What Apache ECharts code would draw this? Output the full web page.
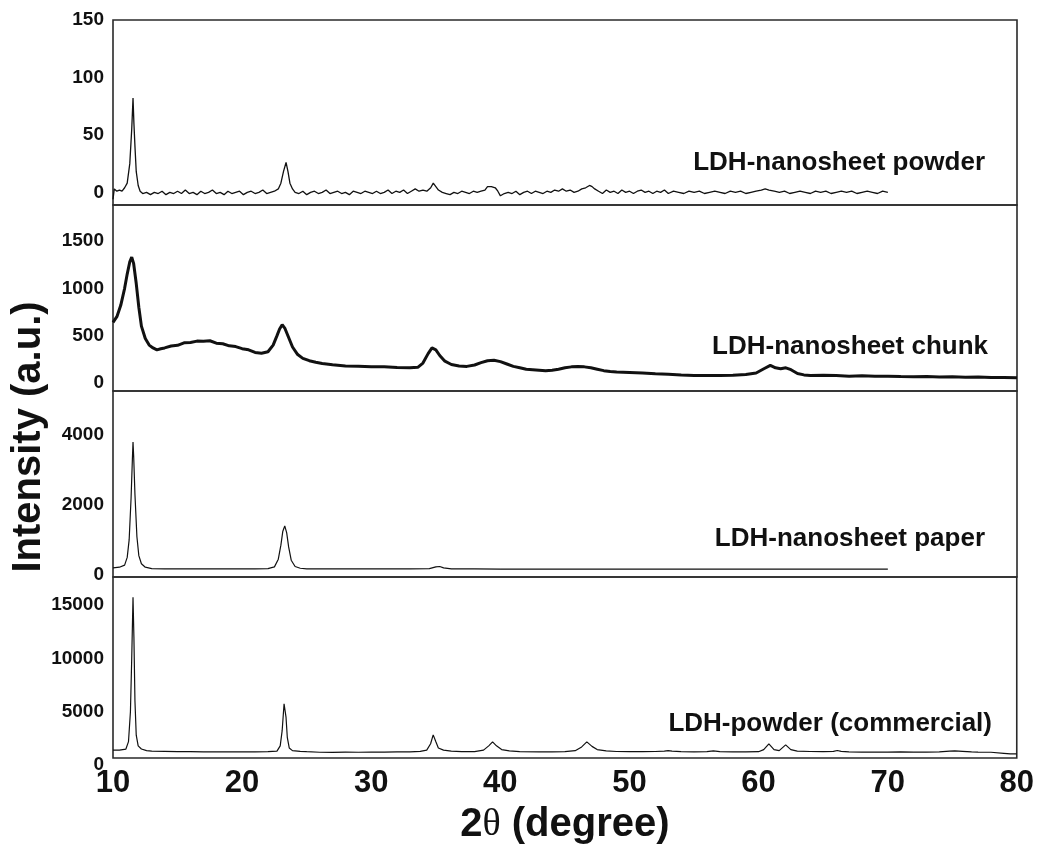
<!DOCTYPE html>
<html>
<head>
<meta charset="utf-8">
<script src="https://cdn.jsdelivr.net/npm/echarts@6/dist/echarts.min.js"></script>
<style>html,body{margin:0;padding:0;background:#fff;}#c{width:1037px;height:850px;}</style>
</head>
<body>
<div id="c"></div>
<script>
// ---- Data (2θ in degrees, intensity in a.u.) ----
const xTicks = [10, 20, 30, 40, 50, 60, 70, 80];
const panelNames = ['LDH-nanosheet powder', 'LDH-nanosheet chunk', 'LDH-nanosheet paper', 'LDH-powder (commercial)'];
const yTicksPowder = [0, 50, 100, 150];
const yTicksChunk = [0, 500, 1000, 1500];
const yTicksPaper = [0, 2000, 4000];
const yTicksCommercial = [0, 5000, 10000, 15000];

const powderX = [
  10.0,10.1,10.3,10.5,10.7,10.9,11.1,11.3,11.45,11.55,
  11.62,11.7,11.8,11.95,12.1,12.3,12.6,12.9,13.2,13.5,
  13.8,14.1,14.4,14.7,15.0,15.3,15.6,15.9,16.2,16.5,
  16.8,17.1,17.4,17.7,18.0,18.3,18.6,18.9,19.2,19.5,
  19.8,20.1,20.4,20.7,21.0,21.3,21.6,21.9,22.2,22.5,
  22.8,23.0,23.2,23.4,23.55,23.7,23.9,24.1,24.4,24.7,
  25.0,25.3,25.6,25.9,26.2,26.5,26.8,27.1,27.4,27.7,
  28.0,28.3,28.6,28.9,29.2,29.5,29.8,30.1,30.4,30.7,
  31.0,31.3,31.6,31.9,32.2,32.5,32.8,33.1,33.4,33.7,
  34.0,34.3,34.6,34.8,35.0,35.2,35.5,35.8,36.1,36.4,
  36.7,37.0,37.3,37.6,37.9,38.2,38.5,38.8,39.0,39.3,
  39.6,39.8,40.0,40.3,40.6,40.9,41.2,41.5,41.8,42.1,
  42.4,42.7,43.0,43.3,43.6,43.9,44.2,44.5,44.8,45.1,
  45.4,45.7,46.0,46.3,46.6,46.9,47.1,47.3,47.6,47.9,
  48.2,48.5,48.8,49.1,49.4,49.7,50.0,50.3,50.6,50.9,
  51.2,51.5,51.8,52.1,52.4,52.7,53.0,53.4,53.8,54.2,
  54.6,55.0,55.4,55.8,56.2,56.6,57.0,57.4,57.8,58.2,
  58.6,59.0,59.4,59.8,60.2,60.5,60.8,61.2,61.6,62.0,
  62.4,62.8,63.2,63.6,64.0,64.4,64.8,65.2,65.6,66.0,
  66.4,66.8,67.2,67.6,68.0,68.4,68.8,69.2,69.6,70.0];
const powderY = [
  -6,3,1,2,1,4,8,25,55,82,
  60,40,18,6,1,-1,0,-2,0,-1,
  1,-2,0,-1,1,-1,2,-1,0,-2,
  1,-1,0,2,-1,0,-2,1,-1,0,
  1,-2,0,1,-1,0,2,-1,0,1,
  3,8,18,26,18,8,3,0,-1,1,
  -2,0,1,-1,0,2,-1,0,1,-1,
  0,-2,1,0,-1,1,0,-1,1,-1,
  0,2,-1,1,0,2,-1,1,3,1,
  2,1,4,8,5,2,0,-1,-2,0,
  -1,1,0,-1,1,0,1,2,5,5,
  4,1,-3,-1,0,-1,1,-2,0,1,
  -1,1,0,-1,1,0,2,1,3,1,
  2,0,1,3,4,6,5,3,1,-1,
  2,0,1,-1,2,0,1,-1,1,2,
  0,1,-1,1,0,2,-1,1,0,-1,
  1,0,1,-1,0,1,0,-1,1,0,
  1,-1,0,1,2,3,2,1,0,1,
  -1,0,1,0,-1,1,0,1,-1,0,
  1,0,1,-1,0,1,0,-1,1,0];

const chunkX = [
  10.0,10.3,10.6,10.9,11.1,11.3,11.45,11.6,11.8,12.0,
  12.2,12.5,12.8,13.1,13.4,13.7,14.0,14.5,15.0,15.5,
  16.0,16.5,17.0,17.5,18.0,18.5,19.0,19.5,20.0,20.5,
  21.0,21.5,22.0,22.4,22.7,22.9,23.1,23.3,23.6,23.9,
  24.3,24.7,25.2,25.7,26.2,27,28,29,30,31,
  32,33,33.6,34.0,34.4,34.7,35.0,35.3,35.7,36.2,
  36.8,37.4,38.0,38.5,39.0,39.5,40.0,40.5,41.0,41.5,
  42.0,42.5,43,43.5,44,44.5,45,45.5,46,46.5,
  47,47.5,48,48.5,49,50,51,52,53,54,
  55,56,57,58,59,59.8,60.4,60.9,61.3,61.7,
  62.1,62.5,63.0,63.5,64,65,66,67,68,69,
  70,71,72,73,74,75,76,77,78,79,
  80];
const chunkY = [
  640,700,820,1000,1150,1280,1330,1260,1050,800,
  600,470,400,370,350,362,370,390,398,424,
  428,442,440,446,420,414,392,384,362,350,
  322,314,330,400,500,570,615,580,480,380,
  300,260,235,218,205,192,178,176,170,172,
  163,160,165,210,310,370,350,290,230,195,
  180,175,190,215,235,240,225,200,175,160,
  145,140,135,130,135,145,160,170,175,170,
  160,145,130,120,115,110,105,98,92,85,
  80,78,80,82,90,105,150,185,160,150,
  160,140,100,85,80,82,78,72,75,70,
  72,68,65,67,62,65,60,62,58,57,
  55];

const paperX = [10.0,10.5,10.9,11.1,11.25,11.4,11.5,11.55,11.6,11.7,11.85,12.0,12.2,12.5,13,14,16,18,20,21,22,22.5,22.8,23.0,23.15,23.3,23.45,23.6,23.8,24.1,24.5,25,27,30,33,34.5,35.0,35.3,35.6,36.2,38,40,45,50,55,60,65,70];
const paperY = [200,220,280,500,1000,2200,3300,3800,3400,2300,1100,550,320,220,180,170,170,170,170,170,180,230,450,850,1250,1400,1200,800,420,240,190,175,170,170,170,180,230,240,200,175,170,165,165,165,165,165,165,165];

const commercialX = [
  10,10.5,11.0,11.2,11.35,11.45,11.55,11.62,11.7,11.8,
  11.95,12.2,12.6,13,14,15,16,17,18,19,
  20,21,22,22.7,22.95,23.1,23.25,23.4,23.5,23.65,
  23.9,24.5,25,26,27,28,29,30,31,32,
  33,33.8,34.3,34.6,34.8,35.0,35.2,35.6,36.2,37,
  38,38.7,39.1,39.4,39.7,40.1,40.7,41.5,43,44,
  45,45.8,46.3,46.7,47.1,47.5,48.2,49,50,51,
  52,52.7,53.0,53.3,54,55,56,56.5,57,58,
  59,60,60.4,60.8,61.2,61.6,62.1,62.5,63,64,
  65,65.8,66.1,66.4,67,68,69,70,71,72,
  73,74,74.8,75.2,75.8,76.5,77,78,79,79.5,
  80];
const commercialY = [
  1400,1400,1500,2200,5000,10000,15750,12000,6000,2800,
  1800,1500,1350,1300,1280,1260,1250,1240,1230,1240,
  1230,1240,1250,1300,1800,3200,5750,4500,2600,1600,
  1350,1280,1250,1200,1190,1210,1200,1210,1220,1230,
  1240,1280,1400,2000,2830,2200,1600,1400,1300,1260,
  1260,1400,1800,2170,1800,1450,1320,1260,1240,1230,
  1250,1350,1700,2170,1750,1450,1320,1270,1260,1250,
  1270,1300,1350,1300,1250,1240,1260,1320,1250,1230,
  1230,1250,1450,1980,1450,1350,1890,1450,1300,1270,
  1250,1280,1360,1280,1230,1220,1210,1220,1230,1220,
  1210,1240,1300,1320,1290,1240,1220,1200,1100,1050,
  1040];

// ---- Chart ----
const zip = (xs, ys) => xs.map((x, i) => [x, ys[i]]);
const FONT = '"Liberation Sans", Arial, sans-serif';
const INK = '#111';

const grids = [
  {left: 113, right: 20, top: 20, height: 185},
  {left: 113, right: 20, top: 205, height: 186},
  {left: 113, right: 20, top: 391, height: 186},
  {left: 113, right: 20, top: 577, height: 181}
].map(g => Object.assign(g, {show: true, borderColor: '#2a2a2a', borderWidth: 1.6, backgroundColor: 'transparent'}));

const yRanges = [[-11, 150], [-85, 1880], [-60, 5260], [660, 17640]];
const yTickSets = [yTicksPowder, yTicksChunk, yTicksPaper, yTicksCommercial];

const xAxes = grids.map((g, i) => ({
  type: 'value', gridIndex: i, min: 10, max: 80, interval: 10,
  axisLine: {show: false}, axisTick: {show: false}, splitLine: {show: false},
  axisLabel: i === 3 ? {
    show: true, customValues: xTicks, fontFamily: FONT, fontWeight: 'bold', fontSize: 31, color: INK, margin: 10
  } : {show: false},
  name: i === 3 ? '{a|2}{b|θ}{a| (degree)}' : '',
  nameLocation: 'middle', nameGap: 47,
  nameTextStyle: {
    rich: {
      a: {fontFamily: FONT, fontWeight: 'bold', fontSize: 40, color: INK},
      b: {fontFamily: '"Liberation Serif", "DejaVu Serif", serif', fontWeight: 'normal', fontSize: 38, color: INK}
    }
  }
}));

const yAxes = grids.map((g, i) => {
  const ticks = yTickSets[i].filter(v => v >= yRanges[i][0]);
  const custom = (i === 3) ? [yRanges[i][0]].concat(ticks) : ticks;
  return {
    type: 'value', gridIndex: i, min: yRanges[i][0], max: yRanges[i][1],
    axisLine: {show: false}, axisTick: {show: false}, splitLine: {show: false},
    axisLabel: {
      customValues: custom, margin: 9, fontFamily: FONT, fontWeight: 'bold', fontSize: 19, color: INK,
      formatter: v => (i === 3 && v === yRanges[3][0]) ? '{z|0}' : String(v),
      rich: {z: {fontFamily: FONT, fontWeight: 'bold', fontSize: 19, color: INK, padding: [14, 0, 0, 0]}}
    }
  };
});

const seriesData = [zip(powderX, powderY), zip(chunkX, chunkY), zip(paperX, paperY), zip(commercialX, commercialY)];
const widths = [1.3, 3, 1.2, 1.2];
const series = seriesData.map((d, i) => ({
  name: panelNames[i], type: 'line', xAxisIndex: i, yAxisIndex: i, data: d,
  showSymbol: false, symbol: 'none', smooth: false,
  lineStyle: {color: INK, width: widths[i]}, silent: true
}));

const labelPos = [[985, 163], [988, 347], [985, 539], [992, 724]];
const graphic = panelNames.map((t, i) => ({
  type: 'text', x: labelPos[i][0], y: labelPos[i][1],
  style: {text: t, fill: INK, font: 'bold 26px ' + FONT, textAlign: 'right', textVerticalAlign: 'middle'}
}));
graphic.push({
  type: 'text', x: 29, y: 437, rotation: Math.PI / 2,
  style: {text: 'Intensity (a.u.)', fill: INK, font: 'bold 40px ' + FONT, textAlign: 'center', textVerticalAlign: 'middle'}
});

const chart = echarts.init(document.getElementById('c'), null, {renderer: 'canvas'});
chart.setOption({
  animation: false,
  backgroundColor: '#fff',
  grid: grids,
  xAxis: xAxes,
  yAxis: yAxes,
  series: series,
  graphic: graphic
});
</script>
</body>
</html>
